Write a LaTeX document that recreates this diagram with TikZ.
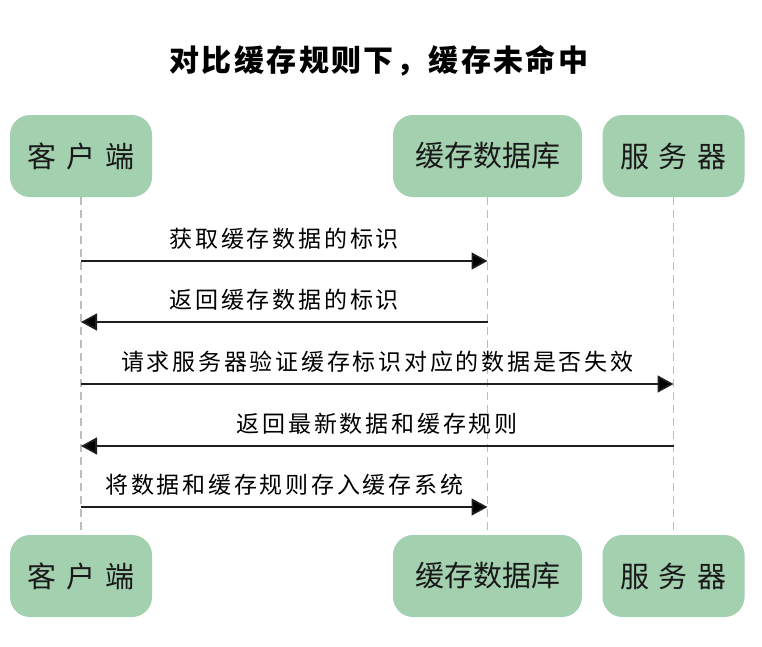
\documentclass[tikz,border=0pt]{standalone}
\usepackage{fontspec}
\usetikzlibrary{arrows.meta}
\newfontfamily\cjk{Noto Sans CJK SC}
\newfontfamily\cjklab[LetterSpace=12]{Noto Sans CJK SC}
\newfontfamily\cjktitle[LetterSpace=8]{Noto Sans CJK SC}
\definecolor{boxgreen}{HTML}{A3D0AE}
\definecolor{lifegray}{HTML}{BDBDBD}
\definecolor{arrowcol}{HTML}{1E1E1E}
\begin{document}
\begin{tikzpicture}[x=1pt,y=-1pt,
  actor/.style={draw=none,fill=boxgreen,rounded corners=20pt,minimum height=82pt,inner sep=0pt,
    font=\cjk\fontsize{29}{32}\selectfont,text=black!90},
  lifeline/.style={draw=lifegray,line width=1.3pt,dash pattern=on 8pt off 5pt},
  msg/.style={draw=arrowcol,line width=1.8pt,-{Triangle[length=16pt,width=17pt,fill=black]}},
  msglabel/.style={font=\cjklab\fontsize{23}{26}\selectfont,text=black,inner sep=0pt}
]
\useasboundingbox (0,0) rectangle (762,646);
% title
\node[font=\cjktitle\bfseries\fontsize{30}{34}\selectfont,inner sep=0pt] (title) at (379,61) {对比缓存规则下，缓存未命中};
% top actors
\node[actor,minimum width=142pt] (ct) at (81,156) {客\hspace{10pt}户\hspace{10pt}端};
\node[actor,minimum width=189pt] (dt) at (487.5,156) {缓存数据库};
\node[actor,minimum width=142pt] (st) at (673.5,156) {服\hspace{10pt}务\hspace{10pt}器};
% bottom actors
\node[actor,minimum width=142pt] (cb) at (81,576) {客\hspace{10pt}户\hspace{10pt}端};
\node[actor,minimum width=189pt] (db) at (487.5,576) {缓存数据库};
\node[actor,minimum width=142pt] (sb) at (673.5,576) {服\hspace{10pt}务\hspace{10pt}器};
% lifelines
\draw[lifeline] (ct.south) -- (cb.north);
\draw[lifeline] (dt.south) -- (db.north);
\draw[lifeline] (st.south) -- (sb.north);
% message anchor points
\foreach \n/\y in {1/261,2/322,3/384,4/446,5/507}{
  \coordinate (c\n) at (81,\y);
  \coordinate (d\n) at (487.5,\y);
  \coordinate (s\n) at (673.5,\y);
}
\draw[msg] (c1) -- node[msglabel,above=11pt] (l1) {获取缓存数据的标识} (d1);
\draw[msg] (d2) -- node[msglabel,above=11pt] (l2) {返回缓存数据的标识} (c2);
\draw[msg] (c3) -- node[msglabel,above=11pt] (l3) {请求服务器验证缓存标识对应的数据是否失效} (s3);
\draw[msg] (s4) -- node[msglabel,above=11pt] (l4) {返回最新数据和缓存规则} (c4);
\draw[msg] (c5) -- node[msglabel,above=11pt] (l5) {将数据和缓存规则存入缓存系统} (d5);
\end{tikzpicture}
\end{document}
